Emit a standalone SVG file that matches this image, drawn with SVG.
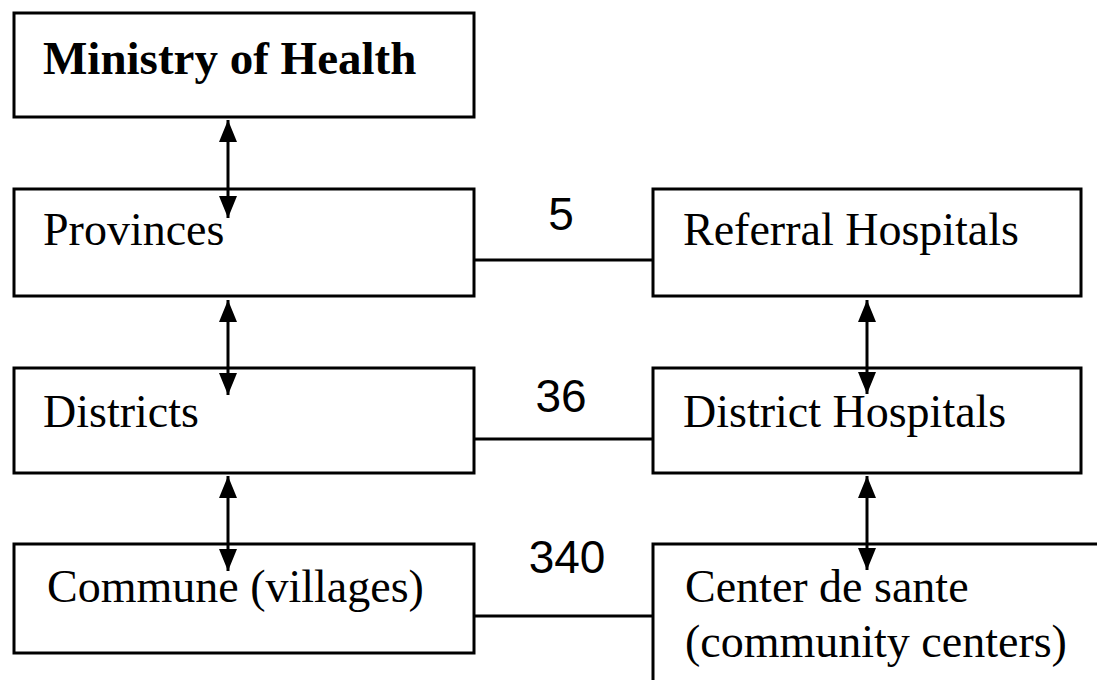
<svg xmlns="http://www.w3.org/2000/svg" width="1097" height="680" viewBox="0 0 1097 680">
  <style>
    .box { fill: #fff; stroke: #000; stroke-width: 3; }
    .lbl { font-family: "Liberation Serif", "Times New Roman", serif; font-size: 46px; fill: #000; }
    .bold { font-weight: bold; font-size: 47px; }
    .num { font-family: "Liberation Sans", Arial, sans-serif; font-size: 46px; fill: #000; text-anchor: middle; }
    .link { stroke: #000; stroke-width: 3; fill: none; }
    .arr { stroke: #000; stroke-width: 3; fill: none; marker-start: url(#ah); marker-end: url(#ah); }
  </style>
  <defs>
    <marker id="ah" viewBox="0 0 22 20" refX="22" refY="10" markerWidth="22" markerHeight="20" markerUnits="userSpaceOnUse" orient="auto-start-reverse">
      <path d="M0,1 L22,10 L0,19 Z" fill="#000"/>
    </marker>
  </defs>
  <rect width="1097" height="680" fill="#fff"/>

  <g id="ministry">
    <rect class="box" x="14" y="13" width="460" height="104"/>
    <text class="lbl bold" x="43" y="74">Ministry of Health</text>
  </g>
  <g id="provinces">
    <rect class="box" x="14" y="189" width="460" height="107"/>
    <text class="lbl" x="43" y="245">Provinces</text>
  </g>
  <g id="districts">
    <rect class="box" x="14" y="368" width="460" height="105"/>
    <text class="lbl" x="43" y="427">Districts</text>
  </g>
  <g id="commune">
    <rect class="box" x="14" y="544" width="460" height="109"/>
    <text class="lbl" x="47" y="602">Commune (villages)</text>
  </g>
  <g id="referral">
    <rect class="box" x="653" y="189" width="428" height="107"/>
    <text class="lbl" x="683" y="245">Referral Hospitals</text>
  </g>
  <g id="district-hospitals">
    <rect class="box" x="653" y="368" width="428" height="105"/>
    <text class="lbl" x="683" y="427">District Hospitals</text>
  </g>
  <g id="center-de-sante">
    <path class="box" d="M1100,544 L653,544 L653,684" fill="none"/>
    <text class="lbl" x="685" y="602">Center de sante</text>
    <text class="lbl" x="685" y="657">(community centers)</text>
  </g>

  <g id="connectors">
    <line class="arr" x1="228" y1="120" x2="228" y2="218"/>
    <line class="arr" x1="228" y1="300" x2="228" y2="395"/>
    <line class="arr" x1="228" y1="476" x2="228" y2="571"/>
    <line class="arr" x1="867" y1="300" x2="867" y2="394"/>
    <line class="arr" x1="867" y1="476" x2="867" y2="570"/>
    <line class="link" x1="474" y1="260" x2="653" y2="260"/>
    <line class="link" x1="474" y1="439" x2="653" y2="439"/>
    <line class="link" x1="474" y1="616" x2="653" y2="616"/>
    <text class="num" x="561" y="230">5</text>
    <text class="num" x="561" y="412">36</text>
    <text class="num" x="567" y="573">340</text>
  </g>
</svg>
